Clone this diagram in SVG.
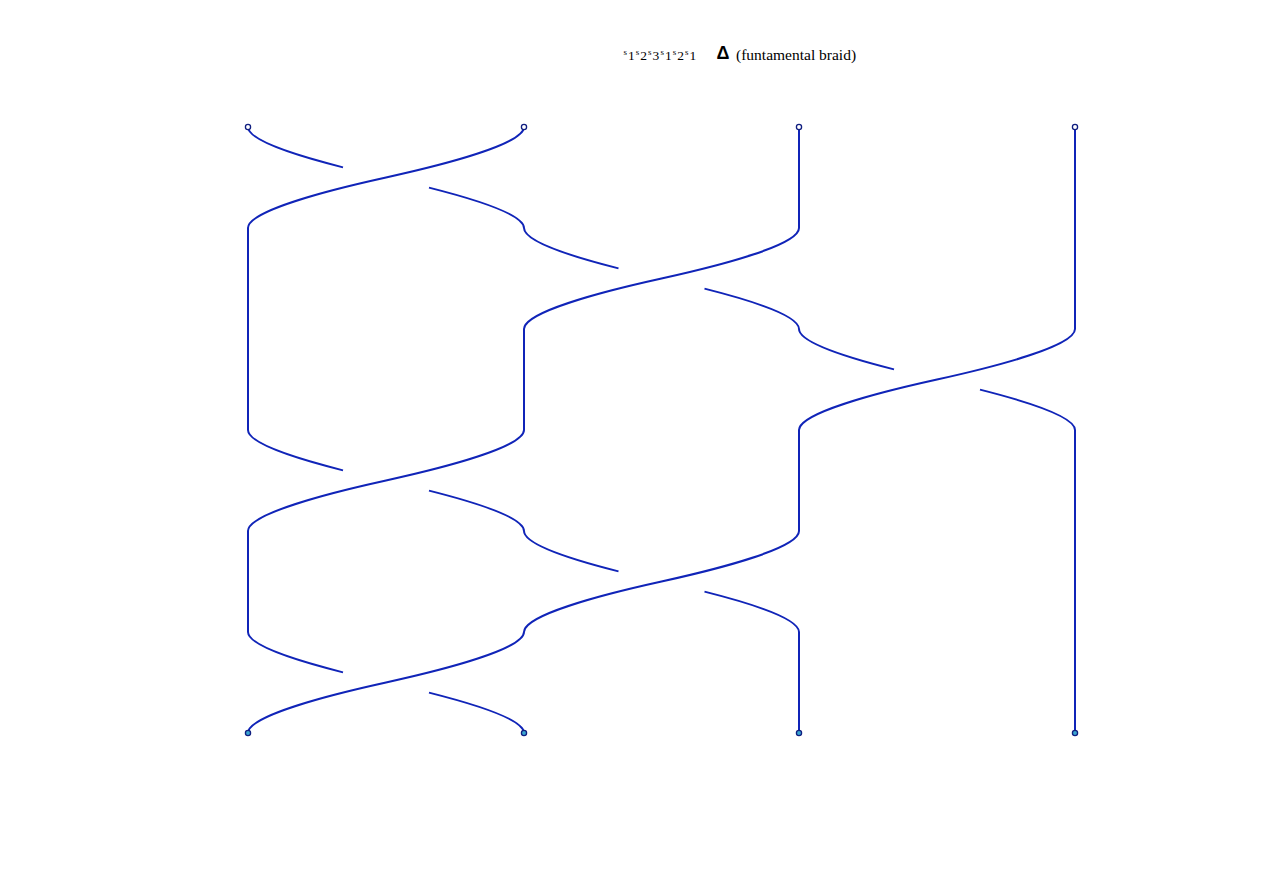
<svg xmlns="http://www.w3.org/2000/svg" width="1280" height="892" viewBox="0 0 1280 892">
<style>
.strand{fill:none;stroke:#1024b8;stroke-width:2;stroke-linecap:butt}
.top{fill:#ffffff;stroke:#101e80;stroke-width:1.3}
.bot{fill:#3aa6d0;stroke:#101e80;stroke-width:1.3}
.t{font-family:"Liberation Serif","Times New Roman",serif;fill:#000}
.s{font-size:9px}
.d{font-size:13.5px}
</style>
<rect width="1280" height="892" fill="#ffffff"/>
<g id="title">
<text class="t" y="60"><tspan class="s" x="623.5" dy="-5.5">s</tspan><tspan class="d" x="628" dy="5.5">1</tspan><tspan class="s" x="635.8" dy="-5.5">s</tspan><tspan class="d" x="640.3" dy="5.5">2</tspan><tspan class="s" x="648.1" dy="-5.5">s</tspan><tspan class="d" x="652.6" dy="5.5">3</tspan><tspan class="s" x="660.4" dy="-5.5">s</tspan><tspan class="d" x="664.9" dy="5.5">1</tspan><tspan class="s" x="672.7" dy="-5.5">s</tspan><tspan class="d" x="677.2" dy="5.5">2</tspan><tspan class="s" x="685" dy="-5.5">s</tspan><tspan class="d" x="689.5" dy="5.5">1</tspan></text>
<text x="716.5" y="59" font-family="Liberation Sans, Arial, sans-serif" font-size="18" font-weight="bold" fill="#000">Δ</text>
<text class="t" x="736" y="60" font-size="15.5">(funtamental braid)</text>
</g>
<g id="connectors">
<path class="strand" d="M524,127 C524,144 444.5,164.6 386,177.5 C327.5,190.4 248,211 248,228"/>
<path class="strand" d="M248,127 C248,140.04 294.8,155.2 343,167.37"/>
<path class="strand" d="M429,187.63 C477.2,199.8 524,214.96 524,228"/>
<path class="strand" d="M799,228 C799,245 720,265.6 661.5,278.5 C603,291.4 524,312 524,329"/>
<path class="strand" d="M524,228 C524,241.04 570.3,256.2 618.5,268.37"/>
<path class="strand" d="M704.5,288.63 C752.7,300.8 799,315.96 799,329"/>
<path class="strand" d="M1075,329 C1075,346 995.5,366.6 937,379.5 C878.5,392.4 799,413 799,430"/>
<path class="strand" d="M799,329 C799,342.04 845.8,357.2 894,369.37"/>
<path class="strand" d="M980,389.63 C1028.2,401.8 1075,416.96 1075,430"/>
<path class="strand" d="M524,430 C524,447 444.5,467.6 386,480.5 C327.5,493.4 248,514 248,531"/>
<path class="strand" d="M248,430 C248,443.04 294.8,458.2 343,470.37"/>
<path class="strand" d="M429,490.63 C477.2,502.8 524,517.96 524,531"/>
<path class="strand" d="M799,531 C799,548 720,568.6 661.5,581.5 C603,594.4 524,615 524,632"/>
<path class="strand" d="M524,531 C524,544.04 570.3,559.2 618.5,571.37"/>
<path class="strand" d="M704.5,591.63 C752.7,603.8 799,618.96 799,632"/>
<path class="strand" d="M524,632 C524,649 444.5,669.6 386,682.5 C327.5,695.4 248,716 248,733"/>
<path class="strand" d="M248,632 C248,645.04 294.8,660.2 343,672.37"/>
<path class="strand" d="M429,692.63 C477.2,704.8 524,719.96 524,733"/>
<path class="strand" d="M248,228 V430 M248,531 V632 M524,329 V430 M799,127 V228 M799,430 V531 M799,632 V733 M1075,127 V329 M1075,430 V733"/>
</g>
<g id="top1"><circle class="top" cx="248" cy="127" r="2.6"/></g>
<g id="top2"><circle class="top" cx="524" cy="127" r="2.6"/></g>
<g id="top3"><circle class="top" cx="799" cy="127" r="2.6"/></g>
<g id="top4"><circle class="top" cx="1075" cy="127" r="2.6"/></g>
<g id="bot1"><circle class="bot" cx="248" cy="733" r="2.6"/></g>
<g id="bot2"><circle class="bot" cx="524" cy="733" r="2.6"/></g>
<g id="bot3"><circle class="bot" cx="799" cy="733" r="2.6"/></g>
<g id="bot4"><circle class="bot" cx="1075" cy="733" r="2.6"/></g>
</svg>
